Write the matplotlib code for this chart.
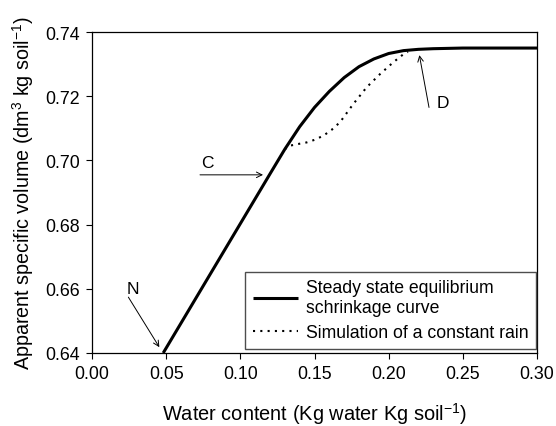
import matplotlib
matplotlib.use('Agg')
import matplotlib.pyplot as plt

plt.rcParams['font.family'] = ['Liberation Sans', 'DejaVu Sans']
plt.rcParams['mathtext.default'] = 'regular'

# steady state equilibrium shrinkage curve
x_eq = [0.048, 0.06, 0.08, 0.10, 0.12, 0.13, 0.14, 0.15, 0.16, 0.17, 0.18,
        0.19, 0.20, 0.21, 0.22, 0.23, 0.24, 0.25, 0.27, 0.30]
y_eq = [0.640, 0.6493, 0.6648, 0.6803, 0.6958, 0.7035, 0.7105, 0.7165, 0.7215,
        0.7258, 0.7292, 0.7316, 0.7333, 0.7342, 0.7346, 0.7348, 0.7349, 0.735,
        0.735, 0.735]

# simulation of a constant rain
x_rain = [0.130, 0.1335, 0.140, 0.1447, 0.150, 0.156, 0.1615, 0.1672, 0.1762,
          0.1852, 0.1942, 0.2032, 0.210, 0.213]
y_rain = [0.7035, 0.7046, 0.7052, 0.7056, 0.7064, 0.7077, 0.7095, 0.7119,
          0.7176, 0.7228, 0.7269, 0.7306, 0.7331, 0.7338]

fig = plt.figure(figsize=(5.56, 4.27), dpi=100)
ax = fig.add_axes([0.1655, 0.171, 0.8003, 0.7517])

ax.plot(x_eq, y_eq, color='k', lw=2.2, solid_capstyle='butt',
        label='Steady state equilibrium\nschrinkage curve', clip_on=False)
ax.plot(x_rain, y_rain, color='k', lw=1.5, linestyle=(0, (1, 2.5)),
        label='Simulation of a constant rain')

arrow = dict(arrowstyle='->', color='k', lw=0.7, shrinkA=0, shrinkB=0)
ax.annotate('', xy=(0.1153, 0.6955), xytext=(0.0728, 0.6955), arrowprops=arrow)
ax.text(0.0776, 0.6992, 'C', fontsize=12.5, ha='center', va='center')
ax.annotate('', xy=(0.2207, 0.7328), xytext=(0.2272, 0.7165), arrowprops=arrow)
ax.text(0.2367, 0.7179, 'D', fontsize=12.5, ha='center', va='center')
ax.annotate('', xy=(0.0454, 0.6418), xytext=(0.0245, 0.6574), arrowprops=arrow)
ax.text(0.0278, 0.6600, 'N', fontsize=12.5, ha='center', va='center')

ax.set_xlim(0.0, 0.30)
ax.set_ylim(0.64, 0.74)
ax.set_xticks([0.0, 0.05, 0.10, 0.15, 0.20, 0.25, 0.30])
ax.set_yticks([0.64, 0.66, 0.68, 0.70, 0.72, 0.74])
ax.xaxis.set_major_formatter(matplotlib.ticker.FormatStrFormatter('%.2f'))
ax.yaxis.set_major_formatter(matplotlib.ticker.FormatStrFormatter('%.2f'))
ax.tick_params(direction='out', length=4, width=0.8, labelsize=12.8, pad=5)
for s in ax.spines.values():
    s.set_linewidth(0.9)

ax.set_xlabel('Water content (Kg water Kg soil$^{-1}$)', fontsize=14.4, labelpad=13)
ax.set_ylabel('Apparent specific volume (dm$^{3}$ kg soil$^{-1}$)', fontsize=14.2, labelpad=6)

leg = ax.legend(loc='lower right', bbox_to_anchor=(0.998, 0.0125), borderaxespad=0,
                fontsize=12.7, fancybox=False, edgecolor='0.3', framealpha=1,
                handlelength=2.6, handletextpad=0.4, labelspacing=0.45,
                borderpad=0.45)
leg.get_frame().set_linewidth(1.0)

fig.savefig('out.png', dpi=100)
